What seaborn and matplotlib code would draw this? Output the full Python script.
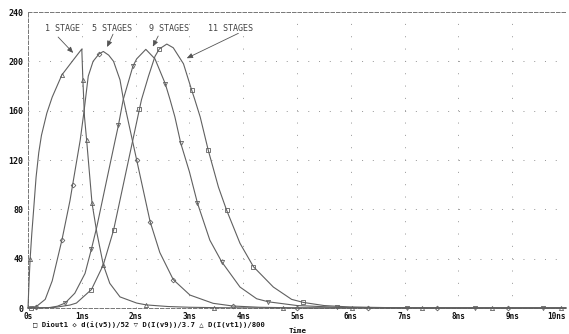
import numpy as np
import pandas as pd
import matplotlib
matplotlib.use("Agg")
import matplotlib.pyplot as plt
import seaborn as sns

# ---------------- data ----------------
t1 = [0, 0.02, 0.04, 0.07, 0.1, 0.15, 0.2, 0.25, 0.35, 0.45, 0.63, 0.84, 1.0, 1.02, 1.05,
      1.09, 1.19, 1.28, 1.4, 1.52, 1.71, 2.02, 2.2, 2.6, 3.0, 3.45, 4.0, 4.74, 6.02, 7.32,
      8.62, 9.91, 10]
v1 = [0, 22, 40, 60, 77, 106, 126, 140, 158, 171, 189, 201, 210, 185, 155,
      136, 85, 61, 35, 20, 9, 4, 2.5, 1.2, 0.6, 0.3, 0.1, 0, 0, 0,
      0, 0, 0]
m1 = [0.04, 0.63, 1.02, 1.09, 1.19, 1.4, 2.2, 3.45, 4.74, 6.02, 7.32, 8.62, 9.91]

t5 = [0, 0.15, 0.32, 0.45, 0.63, 0.78, 0.83, 0.97, 1.04, 1.12, 1.21, 1.32, 1.40, 1.50,
      1.59, 1.71, 1.77, 1.93, 2.02, 2.27, 2.45, 2.70, 3.01, 3.44, 3.81, 4.3, 5.0, 6.32,
      7.6, 8.92, 10]
v5 = [0, 1, 7, 22, 55, 87, 100, 136, 159, 188, 200, 206, 208, 205,
      200, 185, 170, 138, 120, 70, 45, 23, 10.5, 3.8, 1.6, 0.6, 0.1, 0,
      0, 0, 0]
m5 = [0.15, 0.63, 0.83, 1.32, 2.02, 2.27, 2.70, 3.81, 5.0, 6.32, 7.6, 8.92]

t9 = [0, 0.4, 0.55, 0.69, 0.87, 1.06, 1.18, 1.28, 1.43, 1.62, 1.68, 1.77, 1.95, 2.02,
      2.19, 2.36, 2.55, 2.64, 2.73, 2.84, 3.0, 3.15, 3.38, 3.6, 3.94, 4.25, 4.47, 5.0,
      5.74, 7.04, 8.31, 9.57, 10]
v9 = [0, 0.3, 1.5, 4, 12, 28, 48, 66, 97, 136, 148, 169, 196, 202,
      209.7, 202, 182, 169, 155, 133.5, 110.5, 85, 55, 37.5, 17, 7.5, 5, 2,
      0.6, 0.1, 0, 0, 0]
m9 = [0.69, 1.18, 1.68, 1.95, 2.55, 2.84, 3.15, 3.6, 4.47, 5.74, 7.04, 8.31, 9.57]

t11 = [0, 0.05, 0.5, 0.78, 0.9, 1.18, 1.4, 1.59, 1.83, 2.07, 2.11, 2.24, 2.36, 2.44,
       2.58, 2.70, 2.89, 3.04, 3.10, 3.20, 3.35, 3.54, 3.69, 3.94, 4.19, 4.56, 4.9,
       5.12, 5.5, 6.0, 7.0, 10]
v11 = [0, 0, 0.5, 2.4, 4, 15, 35, 63, 112, 161, 169, 188, 204, 210,
       214, 211, 198, 177, 169, 155, 128, 98, 79.5, 52.5, 33.5, 17, 7,
       4.5, 2, 0.8, 0.1, 0]
m11 = [0.05, 1.18, 1.59, 2.07, 2.44, 3.04, 3.35, 3.69, 4.19, 5.12]

x_ticks = list(range(11))
x_tick_labels = ["0s", "1ns", "2ns", "3ns", "4ns", "5ns", "6ns", "7ns", "8ns", "9ns", "10ns"]
y_ticks = [0, 40, 80, 120, 160, 200, 240]
y_tick_labels = ["0", "40", "80", "120", "160", "200", "240"]

stage_labels = ["1 STAGE", "5 STAGES", "9 STAGES", "11 STAGES"]
label_pos = [(0.64, 227), (1.56, 227), (2.62, 227), (3.76, 227)]
arrow_tail = [(0.56, 219.7), (1.58, 222), (2.42, 220.5), (3.91, 222.7)]
arrow_head = [(0.84, 206.8), (1.47, 211.6), (2.32, 211.9), (2.95, 202.5)]

legend_text = "\u25a1 Diout1 \u25c7 d(i(v5))/52 \u25bd D(I(v9))/3.7 \u25b3 D(I(vt1))/800"

# ---------------- style ----------------
sns.set_style("white")
plt.rcParams["font.family"] = ["DejaVu Sans Mono", "DejaVu Sans"]

LINE = "#606060"
GRID = "#9a9a9a"
SPINE = "#7a7a7a"

fig = plt.figure(figsize=(5.69, 3.34), dpi=100)
ax = fig.add_axes([28 / 569, 26 / 334, 538 / 569, 296 / 334])

series = [
    (t1, v1, m1, "^"),
    (t5, v5, m5, "D"),
    (t9, v9, m9, "v"),
    (t11, v11, m11, "s"),
]
for t, v, m, mk in series:
    df = pd.DataFrame({"t": t, "v": v})
    idx = [i for i, tt in enumerate(t) if tt in m]
    msize = 2.4 if mk == "D" else 3.0
    sns.lineplot(data=df, x="t", y="v", ax=ax, estimator=None, sort=False,
                 color=LINE, lw=0.8, marker=mk, markevery=idx, markersize=msize,
                 markerfacecolor="none", markeredgecolor=LINE, markeredgewidth=0.6,
                 clip_on=False, zorder=3)

ax.set_xlim(0, 10)
ax.set_ylim(0, 240)
ax.set_xlabel("")
ax.set_ylabel("")

ax.set_xticks(x_ticks)
ax.set_xticklabels(x_tick_labels, fontsize=5.6, fontweight="bold", color="#111111")
# keep the last label inside the picture (it sits at the right edge)
ax.get_xticklabels()[-1].set_horizontalalignment("right")
ax.get_xticklabels()[-1].set_x(10.04)
ax.set_yticks(y_ticks)
ax.set_yticklabels(y_tick_labels, fontsize=6, fontweight="bold", color="#111111")
ax.tick_params(axis="y", direction="out", length=3, width=0.7, color=SPINE, pad=0.5)
ax.tick_params(axis="x", direction="in", length=3, width=0.7, color=SPINE, pad=3)

# dotted grid
ax.xaxis.grid(True, color=GRID, lw=0.72, linestyle=(0, (1, 11.33)))
ax.yaxis.grid(True, color=GRID, lw=0.72, linestyle=(0, (1, 9.76)))
ax.set_axisbelow(True)
for gl in ax.xaxis.get_gridlines():
    if gl.get_xdata()[0] in (0, 10):
        gl.set_visible(False)
for gl in ax.yaxis.get_gridlines():
    if gl.get_ydata()[0] in (0, 240):
        gl.set_visible(False)

for side in ["left", "top", "bottom"]:
    ax.spines[side].set_visible(True)
    ax.spines[side].set_linestyle((0, (3.5, 2)))
    ax.spines[side].set_color(SPINE)
    ax.spines[side].set_linewidth(0.72)
ax.spines["right"].set_visible(False)

# stage annotations
for lab, (tx, ty), tail, head in zip(stage_labels, label_pos, arrow_tail, arrow_head):
    ax.text(tx, ty, lab, ha="center", va="center", fontsize=6, color="#444444")
    ax.annotate("", xy=head, xytext=tail,
                arrowprops=dict(arrowstyle="-|>,head_length=0.35,head_width=0.15",
                                color="#555555", lw=0.6, shrinkA=0, shrinkB=0))

fig.text(33 / 569, 1 - 324.5 / 334, legend_text, ha="left", va="center",
         fontsize=5.2, fontweight="bold", color="#111111")
fig.text(298 / 569, 1 - 331 / 334, "Time", ha="center", va="center",
         fontsize=5.3, fontweight="bold", color="#111111")

fig.savefig("out.png", dpi=100, facecolor="white")
